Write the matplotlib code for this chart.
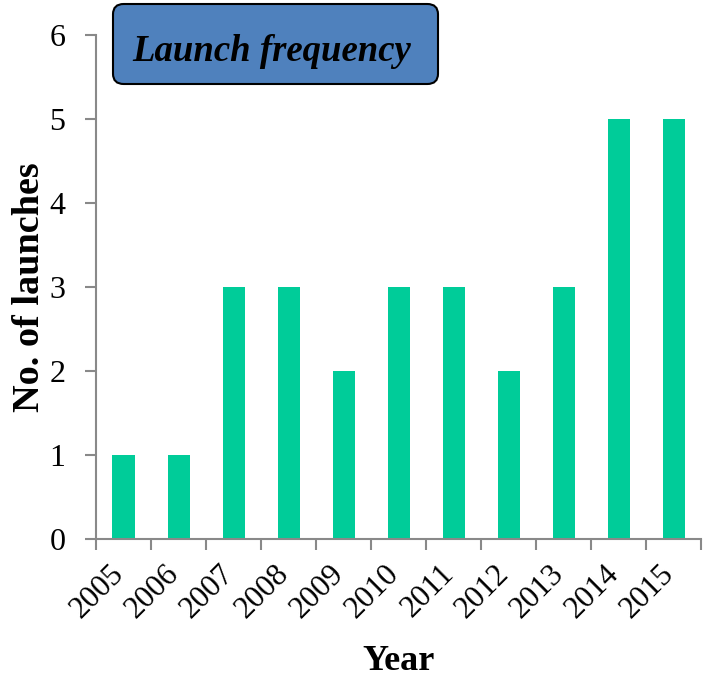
import matplotlib
matplotlib.use('Agg')
import matplotlib.pyplot as plt
from matplotlib.patches import FancyBboxPatch
from matplotlib.transforms import ScaledTranslation
import numpy as np

years = ['2005', '2006', '2007', '2008', '2009', '2010', '2011', '2012', '2013', '2014', '2015']
launches = [1, 1, 3, 3, 2, 3, 3, 2, 3, 5, 5]

plt.rcParams['font.family'] = ['Liberation Serif', 'DejaVu Serif']

W, H = 711, 684
fig = plt.figure(figsize=(W / 100, H / 100), dpi=100)
ax = fig.add_axes([96 / W, 1 - 539 / H, 605 / W, 504 / H])

x = np.arange(len(years))
ax.bar(x, launches, width=0.4, color='#00CC99')

ax.set_xlim(-0.5, len(years) - 0.5)
ax.set_ylim(0, 6)
ax.set_yticks(range(0, 7))

# category labels in the middle, tick marks at the boundaries
ax.set_xticks(x)
ax.set_xticklabels(years, rotation=45, ha='right', va='center',
                   rotation_mode='anchor', fontsize=22.5)
ax.tick_params(axis='x', which='major', length=0, pad=22)
shift = ScaledTranslation(-3 / 72, 0, fig.dpi_scale_trans)
for lab in ax.get_xticklabels():
    lab.set_transform(lab.get_transform() + shift)
ax.set_xticks(np.arange(-0.5, len(years)), minor=True)
ax.tick_params(axis='x', which='minor', length=8, width=1.5, color='#898989')
ax.tick_params(axis='y', labelsize=23, length=8, width=1.5, color='#898989', pad=14)

for s in ['top', 'right']:
    ax.spines[s].set_visible(False)
for s in ['left', 'bottom']:
    ax.spines[s].set_color('#898989')
    ax.spines[s].set_linewidth(1.5)

ax.set_ylabel('No. of launches', fontsize=27.5, fontweight='bold', labelpad=2)
ax.set_xlabel('Year', fontsize=26, fontweight='bold', labelpad=15)

# title box
box = FancyBboxPatch((113 / W, 1 - 84 / H), 325 / W, 80 / H,
                     boxstyle='round,pad=0,rounding_size=0.015',
                     transform=fig.transFigure, facecolor='#4F81BD',
                     edgecolor='black', linewidth=1.5)
fig.patches.append(box)
fig.text(132 / W, 1 - 61 / H, 'Launch frequency', fontsize=26.5,
         fontweight='bold', fontstyle='italic', va='baseline', ha='left')

fig.savefig('out.png', dpi=100)
